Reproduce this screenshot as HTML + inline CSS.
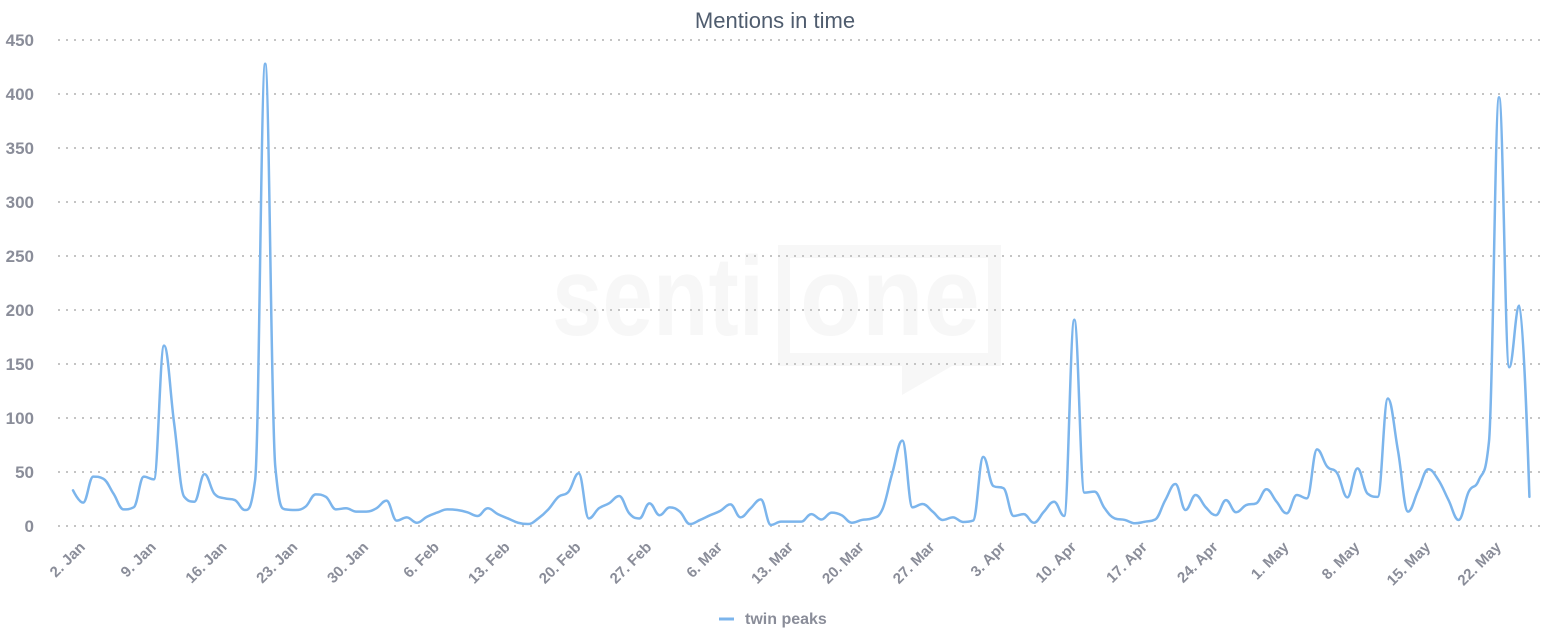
<!DOCTYPE html>
<html>
<head>
<meta charset="utf-8">
<style>
  html,body{margin:0;padding:0;background:#ffffff;}
  body{width:1550px;height:640px;overflow:hidden;}
  svg{display:block;}
  .yl{font-family:"Liberation Sans",sans-serif;font-size:17px;font-weight:bold;fill:#8a8d99;text-anchor:end;}
  .xl{font-family:"Liberation Sans",sans-serif;font-size:15px;font-weight:bold;fill:#8a8d99;text-anchor:end;}
</style>
</head>
<body>
<svg id="chart" width="1550" height="640" viewBox="0 0 1550 640" xmlns="http://www.w3.org/2000/svg">
  <rect x="0" y="0" width="1550" height="640" fill="#ffffff"/>
  <!-- watermark -->
  <g fill="#f7f7f7">
    <text x="552" y="335" font-family="Liberation Sans, sans-serif" font-weight="bold" font-size="112" textLength="212" lengthAdjust="spacingAndGlyphs">senti</text>
    <path fill-rule="evenodd" d="M778,245 H1001 V366 H952 L902,395 V366 H778 Z M790,258 V353 H988 V258 Z"/>
    <text x="800" y="335" font-family="Liberation Sans, sans-serif" font-weight="bold" font-size="112" textLength="180" lengthAdjust="spacingAndGlyphs">one</text>
  </g>
  <g id="grid"></g>
  <g id="ylabels"></g>
  <g id="xlabels"></g>
  <path id="series" fill="none" stroke="#7cb5ec" stroke-width="2.5" stroke-linejoin="round" stroke-linecap="round" d=""/>
  <text x="775" y="28" text-anchor="middle" font-family="Liberation Sans, sans-serif" font-size="22px" fill="#4f5c6e">Mentions in time</text>
  <line x1="719" y1="619" x2="734" y2="619" stroke="#7cb5ec" stroke-width="3"/>
  <text x="745" y="624" font-family="Liberation Sans, sans-serif" font-weight="bold" font-size="16px" fill="#8a8d99">twin peaks</text>
</svg>
<script>
(function(){
  var NS="http://www.w3.org/2000/svg";
  var y0=526, k=1.08, x0=73, dx=10.114;
  function ys(v){return y0-v*k;}
  function xs(i){return x0+i*dx;}
  var grid=document.getElementById('grid');
  var yl=document.getElementById('ylabels');
  for(var j=0;j<=9;j++){
    var y=y0-j*54;
    var l=document.createElementNS(NS,'line');
    l.setAttribute('x1',58);l.setAttribute('x2',1543);
    l.setAttribute('y1',y);l.setAttribute('y2',y);
    l.setAttribute('stroke','#c4c4c4');l.setAttribute('stroke-width','2');
    l.setAttribute('stroke-dasharray','2,6');
    grid.appendChild(l);
    var t=document.createElementNS(NS,'text');
    t.setAttribute('class','yl');t.setAttribute('x',34);t.setAttribute('y',y+6);
    t.textContent=String(j*50);
    yl.appendChild(t);
  }
  var labels=["2. Jan","9. Jan","16. Jan","23. Jan","30. Jan","6. Feb","13. Feb","20. Feb","27. Feb","6. Mar","13. Mar","20. Mar","27. Mar","3. Apr","10. Apr","17. Apr","24. Apr","1. May","8. May","15. May","22. May"];
  var xl=document.getElementById('xlabels');
  for(var i=0;i<labels.length;i++){
    var ax=xs(i*7)+13, ay=548;
    var t=document.createElementNS(NS,'text');
    t.setAttribute('class','xl');t.setAttribute('x',ax);t.setAttribute('y',ay);
    t.setAttribute('transform','rotate(-45 '+ax+' '+ay+')');
    t.textContent=labels[i];
    xl.appendChild(t);
  }
  var data=[33,21.6,45.7,43.8,30,15.4,17.3,45.7,43.2,167,
    95,27,22.5,48,29.6,25.6,24,14.8,42,428,
    55,15.4,14.8,18,29.3,27,15.4,16.4,13.3,13.3,
    16.4,23.5,5,8,3,8.6,12.4,15.4,14.8,12.7,
    9.3,16.4,11,7,3,1.8,7,15.4,27,31.8,
    48.8,7,16.4,21,27.8,11.7,7,21,10,17.3,
    13.3,1.8,5.6,10,14,20,8,16.4,24.7,1,
    4,4,4,11,6,12.4,10,3,5.6,7,
    14.8,48.8,79,17.3,20.4,13.3,5.6,8,3.7,5,
    64,37,35,9.3,11,3,13.3,22.5,9.3,191,
    30.9,31.8,16.4,7,5.6,2.5,4,6,24,38.9,
    14.8,28.7,17.3,10,24,12.7,19.4,21,34,22.5,
    11.7,28.7,25.6,71,55,48.8,26.5,53.4,30,27,
    118,70,13.3,33,52.5,42.6,24,5.6,31.8,42.6,
    78,397,147,204,27];
  var pts=data.map(function(v,i){return {x:xs(i),y:ys(v)};});
  var sm=1.5,den=2.5;
  var d='M'+pts[0].x.toFixed(2)+','+pts[0].y.toFixed(2);
  for(var i=1;i<pts.length;i++){
    var p=pts[i],last=pts[i-1],next=pts[i+1];
    var lcx,lcy,rcx,rcy;
    if(next){
      lcx=(sm*p.x+last.x)/den; lcy=(sm*p.y+last.y)/den;
      rcx=(sm*p.x+next.x)/den; rcy=(sm*p.y+next.y)/den;
      var corr=0;
      if(rcx!==lcx){corr=((rcy-lcy)*(rcx-p.x))/(rcx-lcx)+p.y-rcy;}
      lcy+=corr; rcy+=corr;
      if(lcy>last.y&&lcy>p.y){lcy=Math.max(last.y,p.y);rcy=2*p.y-lcy;}
      else if(lcy<last.y&&lcy<p.y){lcy=Math.min(last.y,p.y);rcy=2*p.y-lcy;}
      if(rcy>next.y&&rcy>p.y){rcy=Math.max(next.y,p.y);lcy=2*p.y-rcy;}
      else if(rcy<next.y&&rcy<p.y){rcy=Math.min(next.y,p.y);lcy=2*p.y-rcy;}
      p.rcx=rcx;p.rcy=rcy;
    } else {lcx=p.x;lcy=p.y;}
    var c1x=(last.rcx!==undefined)?last.rcx:last.x;
    var c1y=(last.rcy!==undefined)?last.rcy:last.y;
    d+=' C'+c1x.toFixed(2)+','+c1y.toFixed(2)+' '+lcx.toFixed(2)+','+lcy.toFixed(2)+' '+p.x.toFixed(2)+','+p.y.toFixed(2);
  }
  document.getElementById('series').setAttribute('d',d);
})();
</script>
</body>
</html>
